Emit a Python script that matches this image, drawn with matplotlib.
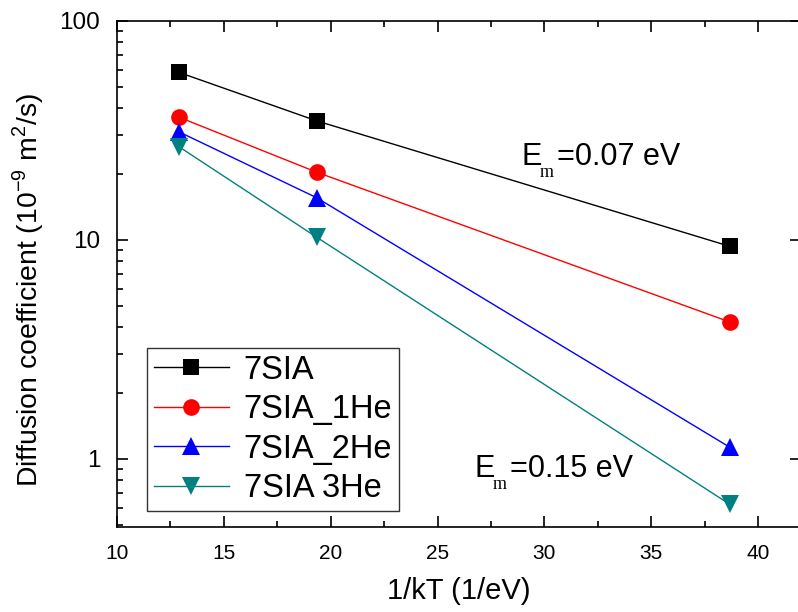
"""Coeficiente de difusión de cúmulos 7SIA con He frente a 1/kT"""

import matplotlib
matplotlib.use('Agg')
import matplotlib.pyplot as plt
from matplotlib.ticker import MultipleLocator, LogLocator, NullFormatter

plt.rcParams['font.family'] = ['Liberation Sans', 'DejaVu Sans']
plt.rcParams['mathtext.fontset'] = 'custom'
plt.rcParams['mathtext.rm'] = 'Liberation Sans'

# 1/kT para 900, 600 y 300 K
inv_kt = [12.89, 19.34, 38.68]

series = ['7SIA', '7SIA_1He', '7SIA_2He', '7SIA 3He']
d_7sia = [58.3, 35.0, 9.35]
d_1he = [36.4, 20.4, 4.22]
d_2he = [31.2, 15.6, 1.13]
d_3he = [26.7, 10.3, 0.62]

colores = ['black', 'red', 'blue', '#008080']
marcadores = ['s', 'o', '^', 'v']
tamanos = [11, 12, 13, 13]

# energías de migración y dónde se escriben (x, y en datos)
energias = ['0.07', '0.15']
pos_energias = [(28.95, 22.0), (26.75, 0.825)]


def escribir_em(ax, x, y, valor):
    """Escribe E_m=valor eV con el subíndice en serif, como en Origin."""
    kw = dict(xy=(x, y), xycoords='data', textcoords='offset points',
              va='baseline', ha='left')
    ax.annotate('E', xytext=(0, 0), fontsize=22, **kw)
    ax.annotate('m', xytext=(13, -8.4), fontsize=13,
                family='Liberation Serif', **kw)
    ax.annotate('=' + valor + ' eV', xytext=(25, 0), fontsize=22, **kw)


fig = plt.figure(figsize=(7.98, 6.12), dpi=100)
ax = fig.add_axes([0.1466, 0.1389, 0.857, 0.8268])

for etiqueta, valores, c, m, ms in zip(series, [d_7sia, d_1he, d_2he, d_3he],
                                      colores, marcadores, tamanos):
    ax.plot(inv_kt, valores, color=c, marker=m, markersize=ms, lw=1,
            markeredgewidth=0, label=etiqueta)

ax.set_yscale('log')
ax.set_xlim(10, 42)
ax.set_ylim(0.489, 100)
ax.xaxis.set_major_locator(MultipleLocator(5))
ax.xaxis.set_minor_locator(MultipleLocator(2.5))
ax.yaxis.set_minor_locator(LogLocator(base=10, subs=range(2, 10)))
ax.yaxis.set_minor_formatter(NullFormatter())
ax.set_yticks([1, 10, 100], labels=['1', '10', '100'])

ax.tick_params(which='both', direction='in', top=True, right=True, width=1.2)
ax.tick_params(which='major', length=8)
ax.tick_params(which='minor', length=4)
ax.tick_params(axis='x', labelsize=15, pad=12)
ax.tick_params(axis='y', labelsize=17.5, pad=12)
ax.tick_params(axis='y', which='minor', right=False)
for lado in ax.spines.values():
    lado.set_linewidth(1.2)

ax.set_xlabel('1/kT (1/eV)', fontsize=21, labelpad=10)
ax.set_ylabel('Diffusion coefficient (10$^{-9}$ m$^2$/s)', fontsize=20.4)
ax.yaxis.set_label_coords(-0.104, 0.468)

for valor, (x, y) in zip(energias, pos_energias):
    escribir_em(ax, x, y, valor)

leg = ax.legend(loc='lower left', bbox_to_anchor=(0.044, 0.0316),
                borderaxespad=0, fontsize=23.5, frameon=True, fancybox=False,
                edgecolor='black', handlelength=2.3, borderpad=0.21,
                labelspacing=0.26, handletextpad=0.45)
leg.get_frame().set_linewidth(1.0)

fig.savefig('out.png', dpi=100)
